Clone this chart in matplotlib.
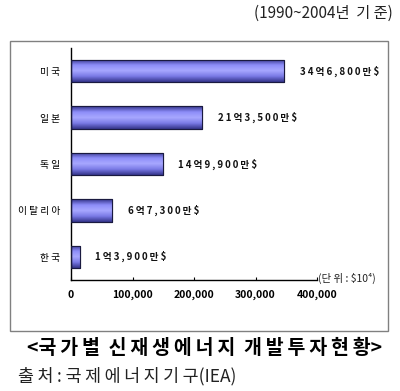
import matplotlib
matplotlib.use("Agg")
import matplotlib.pyplot as plt
import numpy as np
from matplotlib.patches import Rectangle
from matplotlib.colors import LinearSegmentedColormap

plt.rcParams['font.family'] = ['Noto Sans CJK KR', 'DejaVu Sans']

countries = ['미 국', '일 본', '독 일', '이 탈 리 아', '한 국']
values = [346800, 213500, 149900, 67300, 13900]
value_labels = ['34억6,800만$', '21억3,500만$', '14억9,900만$', '6억7,300만$', '1억3,900만$']
xticks = [0, 100000, 200000, 300000, 400000]
xtick_labels = ['0', '100,000', '200,000', '300,000', '400,000']

TS = '\u2009'


def spaced(s):
    return TS.join(list(s))


fig = plt.figure(figsize=(4.0, 3.91), dpi=100)
W, H = 400, 391

# outer frame
fig.patches.append(Rectangle((10 / W, 1 - 331 / H), 378 / W, 290 / H,
                             transform=fig.transFigure, fill=False,
                             edgecolor='#808080', linewidth=1.0))

ax = fig.add_axes([71 / W, 1 - 280 / H, 246 / W, 232 / H])
y = np.arange(len(countries))
bars = ax.barh(y, values, height=0.48, color='#7878e8', edgecolor='#1a1a40', linewidth=0.8, zorder=2)

cmap = LinearSegmentedColormap.from_list('g', ['#34348a', '#8c8cf8', '#a8a8ff', '#7a7ae6', '#34348a'])
grad = np.linspace(0, 1, 64).reshape(-1, 1)
for b in bars:
    x0, y0 = b.get_x(), b.get_y()
    w, h = b.get_width(), b.get_height()
    im = ax.imshow(grad, cmap=cmap, aspect='auto', extent=[x0, x0 + w, y0, y0 + h],
                   origin='lower', zorder=2.5)
    im.set_clip_path(b)
for b in bars:
    ax.add_patch(Rectangle((b.get_x(), b.get_y()), b.get_width(), b.get_height(),
                           fill=False, edgecolor='#1a1a40', linewidth=0.8, zorder=3))

for yi, v, lab in zip(y, values, value_labels):
    ax.annotate(spaced(lab), (v, yi), xytext=(11, 0), textcoords='offset points',
                va='center', ha='left', fontsize=7, fontweight='bold', color='#111111')

ax.set_ylim(len(countries) - 0.5, -0.5)
ax.set_xlim(0, 400000)
ax.set_yticks(y)
ax.set_yticklabels(countries, fontsize=7)
ax.set_xticks(xticks)
ax.set_xticklabels(xtick_labels, fontsize=7.5, fontweight='bold')
ax.tick_params(axis='y', length=0, pad=8)
ax.tick_params(axis='x', direction='in', length=2, pad=7)
for s in ['top', 'right']:
    ax.spines[s].set_visible(False)
ax.spines['left'].set_linewidth(1.0)
ax.spines['bottom'].set_linewidth(1.0)
ax.set_facecolor('none')

fig.text(318 / W, 1 - 278 / H, '(단 위 : $10⁴)', fontsize=7.5, ha='left', va='center', color='#222222')
fig.text(393 / W, 1 - 13 / H, '(1990~2004년  기 준)', fontsize=11, ha='right', va='center', color='#222222')
fig.text(205 / W, 1 - 348 / H,
         '<' + spaced('국가별') + '  ' + spaced('신재생에너지') + '  ' + spaced('개발투자현황') + '>',
         fontsize=14, fontweight='bold', ha='center', va='center', color='black')
fig.text(18 / W, 1 - 376 / H, spaced('출처:') + ' ' + spaced('국제에너지기구') + '(IEA)',
         fontsize=12.5, ha='left', va='center', color='#222222')

fig.savefig('out.png', dpi=100)
